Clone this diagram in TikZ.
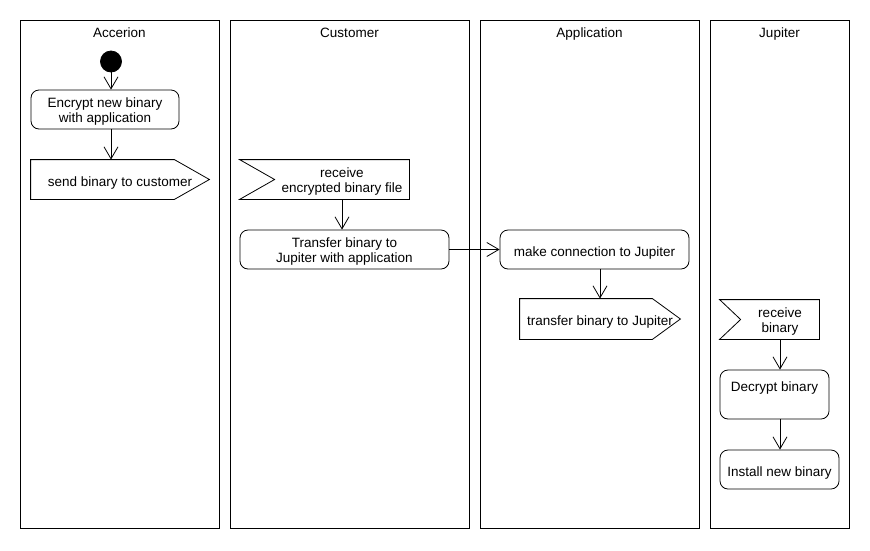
\documentclass[tikz,border=0pt]{standalone}
\usepackage{fontspec}
\setmainfont{Liberation Sans}
\usepackage{tikz}
\usetikzlibrary{arrows.meta}

\tikzset{
	oneline/.style = {text height=13pt, text depth=0pt},
	twoline/.style = {text height=25pt, text depth=0pt}
}

\begin{document}
\begin{tikzpicture}[x=1pt, y=-1pt, line width=0.8pt, font=\fontsize{13.5}{15}\selectfont]
		\useasboundingbox (0,0) rectangle (870,550);
		% swimlanes
		\begin{scope}[every node/.style = {rectangle, draw, minimum height=508}]
			\node[minimum width=199] (Acc) at (119.5,274) {};
			\node[minimum width=239] (Cus) at (349.5,274) {};
			\node[minimum width=219] (App) at (589.5,274) {};
			\node[minimum width=139] (Jup) at (779.5,274) {};
		\end{scope}
		\begin{scope}[every node/.style = {inner sep=0, anchor=base}]
			\node (AccT) at (119.5,37.5) {Accerion};
			\node (CusT) at (349.5,37.5) {Customer};
			\node (AppT) at (589.5,37.5) {Application};
			\node (JupT) at (779.5,37.5) {Jupiter};
		\end{scope}
		% actions
		\node[circle, fill=black, draw, minimum size=21, inner sep=0] (St) at (111,61.5) {};
		\begin{scope}[every node/.style = {rectangle, rounded corners=8, draw, align=center, inner sep=2, minimum height=39}]
			\node[twoline, minimum width=148] (Enc) at (105,109.5) {Encrypt new binary\\with application};
			\node[twoline, minimum width=209] (Tra) at (344.5,249.5) {Transfer binary to\\Jupiter with application};
			\node[oneline, minimum width=189] (Con) at (594.5,249.5) {make connection to Jupiter};
			\node[text height=13pt, text depth=18.6pt, minimum width=109, minimum height=49] (Dec) at (774.5,394.5) {Decrypt binary};
			\node[oneline, minimum width=119] (Ins) at (779.5,469.5) {Install new binary};
		\end{scope}
		% signals
		\begin{scope}[every node/.style = {align=center, inner sep=2, minimum height=39}]
			\node[oneline, minimum width=178] (Snd) at (120,179.5) {send binary to customer};
			\node[twoline, minimum width=134] (RcvC) at (342,179.5) {receive\\encrypted binary file};
			\node[oneline, minimum width=160, minimum height=40] (SndJ) at (600,319) {transfer binary to Jupiter};
			\node[twoline, minimum width=78] (RcvJ) at (780,319.5) {receive\\binary};
		\end{scope}
		\draw (Snd.north west) -- ([xshift=-35pt]Snd.north east) -- (Snd.east) -- ([xshift=-35pt]Snd.south east) -- (Snd.south west) -- cycle;
		\draw (SndJ.north west) -- ([xshift=-28pt]SndJ.north east) -- (SndJ.east) -- ([xshift=-28pt]SndJ.south east) -- (SndJ.south west) -- cycle;
		\draw ([xshift=-35pt]RcvC.north west) -- (RcvC.north east) -- (RcvC.south east) -- ([xshift=-35pt]RcvC.south west) -- (RcvC.west) -- cycle;
		\draw ([xshift=-21pt]RcvJ.north west) -- (RcvJ.north east) -- (RcvJ.south east) -- ([xshift=-21pt]RcvJ.south west) -- (RcvJ.west) -- cycle;
		% flows
		\begin{scope}[>={Straight Barb[length=12pt, width=14pt]}]
			\draw[->] (St) -- (Enc.north -| St);
			\draw[->] (Enc.south -| St) -- (Snd.north -| St);
			\draw[->] (RcvC.south) -- (Tra.north -| RcvC);
			\path[->] (Tra) edge (Con);
			\draw[->] (Con.south -| SndJ) -- (SndJ.north);
			\draw[->] (RcvJ.south) -- (Dec.north -| RcvJ);
			\draw[->] (Dec.south -| RcvJ) -- (Ins.north -| RcvJ);
		\end{scope}
	\end{tikzpicture}
\end{document}
